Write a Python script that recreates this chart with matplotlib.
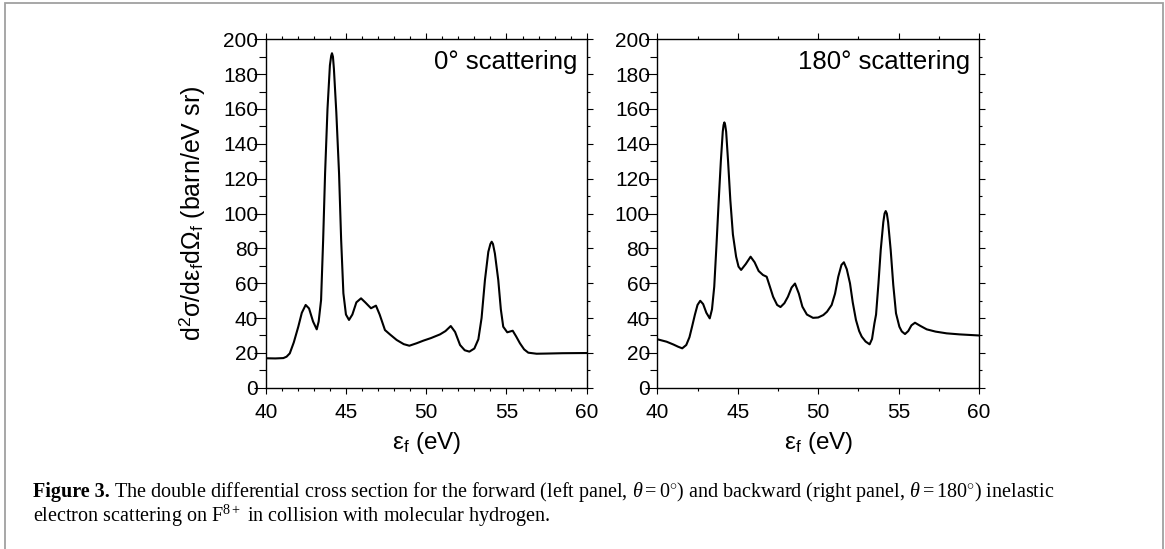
import matplotlib
matplotlib.use('Agg')
import matplotlib.pyplot as plt
from matplotlib.ticker import MultipleLocator
from matplotlib.patches import Rectangle

plt.rcParams['font.family'] = ['Liberation Sans', 'DejaVu Sans']
plt.rcParams['mathtext.fontset'] = 'custom'
plt.rcParams['mathtext.rm'] = 'Liberation Serif'
plt.rcParams['mathtext.it'] = 'Liberation Serif:italic'

# values
# forward scattering (0 deg)
e_fwd = [40.0, 40.6, 41.1, 41.3, 41.5, 41.75, 42.03, 42.25, 42.49, 42.7, 42.95,
         43.18, 43.3, 43.45, 43.58, 43.7, 43.85, 44.0, 44.08, 44.13, 44.19, 44.25,
         44.4, 44.57, 44.7, 44.84, 45.0, 45.19, 45.4, 45.65, 45.94, 46.2, 46.56,
         46.87, 47.1, 47.43, 47.74, 48.16, 48.6, 48.95, 49.4, 49.82, 50.3, 50.86,
         51.2, 51.53, 51.8, 52.11, 52.4, 52.69, 53.0, 53.25, 53.45, 53.66, 53.87,
         54.0, 54.08, 54.16, 54.28, 54.49, 54.65, 54.8, 55.05, 55.39, 55.6, 55.84,
         56.1, 56.36, 56.88, 57.5, 58.5, 59.9, 60.0]
s_fwd = [16.9, 16.8, 17.0, 17.8, 19.7, 26.0, 35.0, 43.0, 47.5, 45.5, 38.0,
         33.5, 38.0, 50.3, 85.0, 123.0, 160.0, 185.0, 190.5, 192.0, 190.0, 183.0,
         158.0, 123.0, 85.0, 54.2, 42.0, 38.9, 42.0, 49.0, 51.3, 49.0, 45.6,
         47.1, 42.0, 33.1, 30.6, 27.4, 25.0, 24.1, 25.5, 27.0, 28.5, 30.6,
         32.5, 35.4, 32.0, 24.5, 21.5, 20.7, 22.5, 27.8, 40.0, 61.8, 78.0,
         82.5, 83.8, 82.5, 77.0, 61.8, 45.0, 35.0, 31.8, 32.7, 29.5, 25.5,
         22.0, 20.1, 19.5, 19.6, 19.8, 19.9, 19.9]

# backward scattering (180 deg)
e_bwd = [40.0, 40.58, 41.0, 41.3, 41.55, 41.8, 42.0, 42.16, 42.34, 42.5, 42.67,
         42.85, 43.05, 43.26, 43.4, 43.54, 43.68, 43.82, 43.95, 44.07, 44.12, 44.17,
         44.22, 44.28, 44.4, 44.54, 44.7, 44.9, 45.05, 45.21, 45.5, 45.8, 46.05,
         46.3, 46.57, 46.8, 47.0, 47.2, 47.45, 47.66, 47.9, 48.12, 48.35, 48.56,
         48.8, 49.02, 49.3, 49.68, 50.0, 50.32, 50.55, 50.84, 51.05, 51.25, 51.45,
         51.6, 51.78, 51.98, 52.15, 52.35, 52.55, 52.71, 52.95, 53.2, 53.35, 53.5,
         53.6, 53.75, 53.89, 54.05, 54.13, 54.2, 54.27, 54.35, 54.51, 54.67, 54.84,
         55.05, 55.2, 55.4, 55.6, 55.8, 56.02, 56.35, 56.75, 57.3, 57.99, 58.8,
         59.96]
s_bwd = [27.8, 26.4, 24.8, 23.5, 22.6, 24.5, 29.0, 35.0, 42.0, 47.5, 49.9,
         48.0, 43.0, 39.8, 45.0, 58.0, 82.0, 107.7, 130.0, 147.0, 150.8, 152.3,
         150.8, 147.0, 130.0, 107.7, 88.0, 75.2, 69.5, 67.6, 71.0, 75.2, 72.0,
         67.0, 64.7, 63.7, 58.0, 52.2, 47.5, 46.3, 48.5, 52.2, 57.5, 59.8,
         54.0, 46.5, 42.0, 40.1, 40.3, 41.7, 43.6, 47.5, 54.0, 63.7, 70.5,
         72.0, 68.0, 59.9, 49.0, 38.9, 32.5, 29.3, 26.5, 24.9, 28.0, 37.0,
         42.0, 60.0, 79.0, 95.0, 100.0, 101.4, 100.0, 95.0, 79.0, 59.0, 42.7,
         35.0, 32.3, 30.8, 32.5, 35.8, 37.3, 35.5, 33.5, 32.2, 31.2, 30.6,
         30.0]

panels = [(e_fwd, s_fwd, '0° scattering', 1.0),
          (e_bwd, s_bwd, '180° scattering', 2.5)]

W, H = 1165, 549
fig = plt.figure(figsize=(W / 100, H / 100), dpi=100)

# grey frame around the whole figure
fig.patches.append(Rectangle((5 / W, -0.05), 1158 / W, (H - 3) / H + 0.05,
                             transform=fig.transFigure, fill=False,
                             edgecolor='#a0a0a0', linewidth=1.3))

lefts = [265.7, 657.3]
widths = [321.0, 321.7]
bottom = (H - 387.7) / H
height = 348.4 / H

for i, (x, y, label, minor_x) in enumerate(panels):
    ax = fig.add_axes([lefts[i] / W, bottom, widths[i] / W, height])
    ax.plot(x, y, color='black', lw=1.5)
    ax.set_xlim(40, 60)
    ax.set_ylim(0, 200)
    ax.xaxis.set_major_locator(MultipleLocator(5))
    ax.xaxis.set_minor_locator(MultipleLocator(minor_x))
    ax.yaxis.set_major_locator(MultipleLocator(20))
    ax.yaxis.set_minor_locator(MultipleLocator(10))
    ax.tick_params(which='both', direction='out', top=True, right=True,
                   width=0.8, labelsize=15)
    ax.tick_params(which='major', length=4.3)
    ax.tick_params(which='minor', length=2.5)
    ax.tick_params(axis='x', pad=6.5)
    ax.tick_params(axis='y', pad=1)
    for t in ax.yaxis.get_major_ticks():
        t.tick1line.set_markersize(8.3)
    for t in ax.yaxis.get_minor_ticks():
        t.tick1line.set_markersize(5)
    for sp in ax.spines.values():
        sp.set_linewidth(1.0)

    ax.set_xlabel('ε$_\\mathregular{f}$ (eV)', fontsize=17.5)
    ax.xaxis.set_label_coords(0.5, -0.12)
    ax.text(0.972, 0.915, label, transform=ax.transAxes, ha='right',
            va='baseline', fontsize=18.5)
    if i == 0:
        ax.set_ylabel('d$^\\mathregular{2}$σ/dε$_\\mathregular{f}$dΩ$_\\mathregular{f}$ (barn/eV sr)',
                      fontsize=18)
        ax.yaxis.set_label_coords(-0.183, 0.5)

# caption
cap_size = 14.5
t1 = fig.text(33 / W, 1 - 497 / H, 'Figure 3.', family='Liberation Serif',
              weight='bold', fontsize=cap_size, va='baseline')
r = fig.canvas.get_renderer()
bb = t1.get_window_extent(r)
fig.text((bb.x1 + 4) / W, 1 - 497 / H,
         'The double differential cross section for the forward (left panel, '
         '$\\theta = 0^{\\circ}$) and backward (right panel, $\\theta = 180^{\\circ}$) inelastic',
         family='Liberation Serif', fontsize=cap_size, va='baseline')
fig.text(33 / W, 1 - 522 / H,
         'electron scattering on F$^{8+}$ in collision with molecular hydrogen.',
         family='Liberation Serif', fontsize=cap_size, va='baseline')

fig.savefig('out.png', dpi=100)
